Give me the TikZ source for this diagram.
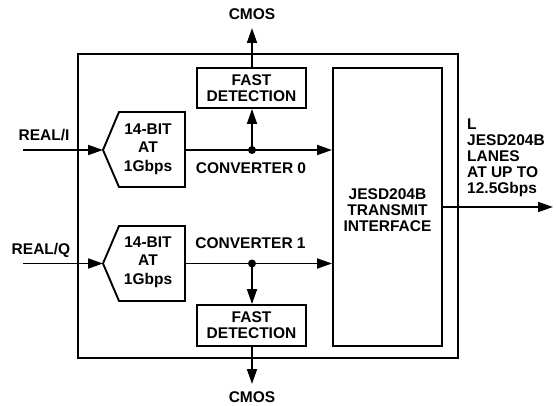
\documentclass[tikz,border=0pt]{standalone}
\usepackage{fontspec}
\setmainfont{Liberation Sans}
\usetikzlibrary{arrows.meta}
\tikzset{
  lbl/.style={font=\fontsize{15.5pt}{16pt}\selectfont\bfseries, inner sep=0pt, align=center},
  blk/.style={draw, line width=1.9pt, inner sep=0pt, lbl},
  wire/.style={line width=1.8pt},
  arr/.style={wire, -{Triangle[length=15pt,width=10pt]}},
  dotc/.style={circle, fill, inner sep=0pt, minimum size=8pt},
}
\begin{document}
\begin{tikzpicture}[x=1pt,y=-1pt]
\useasboundingbox (0,0) rectangle (556,406);
% outer chip
\node[draw, line width=2.8pt, minimum width=380pt, minimum height=304pt, inner sep=0pt] (chip) at (268,206) {};
% JESD block
\node[blk, minimum width=109pt, minimum height=278pt] (jesd) at (387.5,207) {};
\node[lbl] (jesdtxt) at (387.5,210) {JESD204B\\TRANSMIT\\INTERFACE};
% fast detection blocks
\node[blk, minimum width=109pt, minimum height=40pt] (fd0) at (251.5,88) {FAST\\DETECTION};
\node[blk, minimum width=109pt, minimum height=41pt] (fd1) at (251.5,325.5) {FAST\\DETECTION};
% ADCs
\draw[line width=1.9pt] (103,150) -- (119,112) -- (185,112) -- (185,187) -- (119,187) -- cycle;
\coordinate (adc0in) at (103,150);
\coordinate (adc0out) at (185,150);
\node[lbl, font=\fontsize{15.5pt}{18.5pt}\selectfont\bfseries] (adc0) at (148,149) {14-BIT\\AT\\1Gbps};
\draw[line width=1.9pt] (103,263.5) -- (119,226) -- (185,226) -- (185,301) -- (119,301) -- cycle;
\coordinate (adc1in) at (103,263.5);
\coordinate (adc1out) at (185,263.5);
\node[lbl, font=\fontsize{15.5pt}{18.5pt}\selectfont\bfseries] (adc1) at (148,262) {14-BIT\\AT\\1Gbps};
% inputs
\coordinate (in0) at (23,150);
\coordinate (in1) at (23,263.5);
\node[lbl] (reali) at (44,135) {REAL/I};
\node[lbl] (realq) at (41,250) {REAL/Q};
\draw[arr] (in0) -- (adc0in);
\draw[arr] (in1) -- (adc1in);
% converter paths
\node[dotc] (j0) at (252,150) {};
\node[dotc] (j1) at (252,263.5) {};
\draw[arr] (adc0out) -- (jesd.west |- adc0out);
\draw[arr] (adc1out) -- (jesd.west |- adc1out);
\draw[arr] (j0.center) -- (j0 |- fd0.south);
\draw[arr] (j1.center) -- (j1 |- fd1.north);
\node[lbl] (conv0) at (251,168.5) {CONVERTER 0};
\node[lbl] (conv1) at (250.5,243.5) {CONVERTER 1};
% CMOS outputs
\coordinate (cmos0tip) at (252,28);
\coordinate (cmos1tip) at (252,384);
\node[lbl] (cmos0) at (252,14) {CMOS};
\node[lbl] (cmos1) at (252,397) {CMOS};
\draw[arr] (fd0.north -| cmos0tip) -- (cmos0tip);
\draw[arr] (fd1.south -| cmos1tip) -- (cmos1tip);
% output lanes
\coordinate (out) at (553,207);
\draw[arr] (jesd.east) -- (out);
\node[lbl, align=left, anchor=west] (lanes) at (467,157.5) {L\\JESD204B\\LANES\\AT UP TO\\12.5Gbps};
\end{tikzpicture}
\end{document}
